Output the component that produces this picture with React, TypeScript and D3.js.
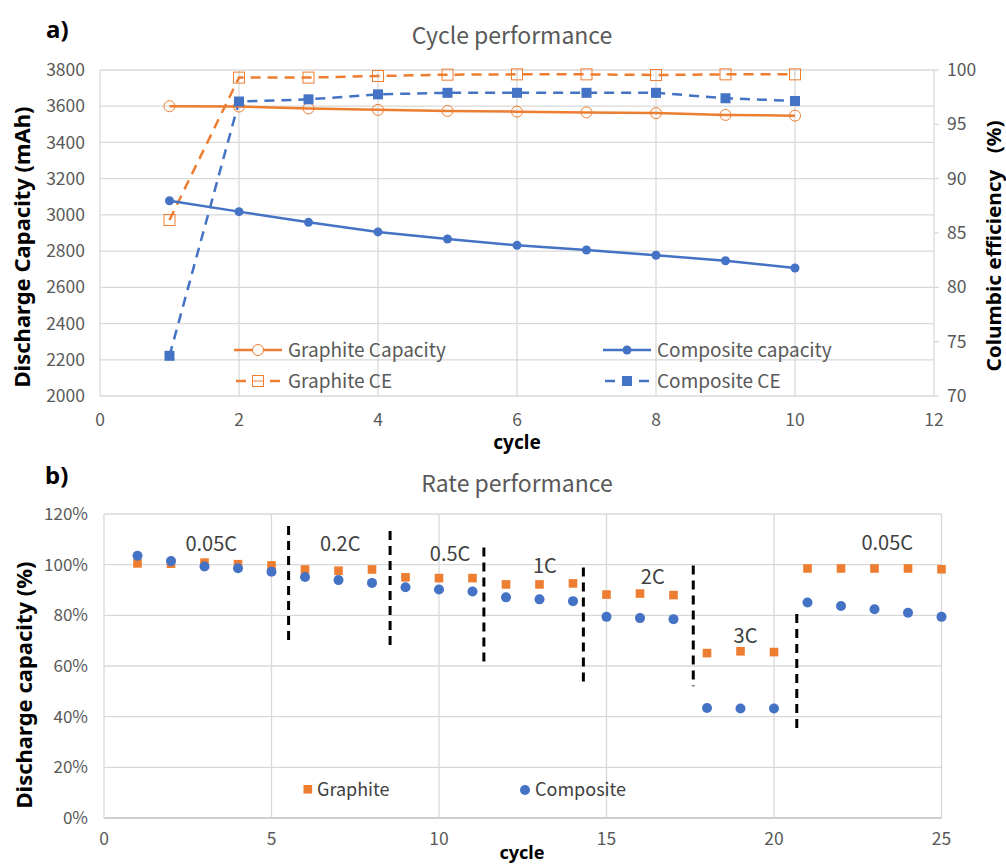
import React from 'react';
import * as d3 from 'd3';

// ---- a) cycle performance ----
const cycles = [1, 2, 3, 4, 5, 6, 7, 8, 9, 10];
const graphiteCapacity = [3600, 3598, 3588, 3580, 3574, 3570, 3566, 3562, 3552, 3548];
const compositeCapacity = [3078, 3018, 2959, 2906, 2867, 2832, 2806, 2777, 2747, 2707];
const graphiteCE = [86.2, 99.3, 99.3, 99.45, 99.57, 99.6, 99.6, 99.54, 99.6, 99.6];
const compositeCE = [73.7, 97.1, 97.3, 97.76, 97.9, 97.9, 97.9, 97.9, 97.4, 97.15];
const capTicks = [2000, 2200, 2400, 2600, 2800, 3000, 3200, 3400, 3600, 3800];
const ceTicks = [70, 75, 80, 85, 90, 95, 100];
const cycleTicksTop = [0, 2, 4, 6, 8, 10, 12];

// ---- b) rate performance ----
const rateCycles = d3.range(1, 26);
const graphiteRate = [100.5, 100.4, 100.8, 100.2, 99.7, 98.1, 97.6, 98.1, 95.0, 94.7, 94.7, 92.2, 92.2, 92.6, 88.2, 88.6, 88.0, 65.1, 65.8, 65.5, 98.5, 98.5, 98.5, 98.5, 98.2];
const compositeRate = [103.5, 101.4, 99.3, 98.6, 97.2, 95.1, 93.9, 92.8, 91.1, 90.2, 89.4, 87.1, 86.3, 85.6, 79.4, 78.9, 78.5, 43.4, 43.2, 43.2, 85.1, 83.7, 82.4, 81.0, 79.4];
const pctTicks = [0, 20, 40, 60, 80, 100, 120];
const cycleTicksBottom = [0, 5, 10, 15, 20, 25];
// separators between C-rates: cycle position, top %, bottom %
const sepCycle = [5.51, 8.54, 11.34, 14.31, 17.59, 20.68];
const sepTop = [115.3, 113.3, 106.8, 98.9, 99.7, 80.5];
const sepBottom = [68.2, 65.9, 59.6, 51.7, 52.0, 33.4];
const rateLabels = ['0.05C', '0.2C', '0.5C', '1C', '2C', '3C', '0.05C'];
const rateLabelCycle = [3.2, 7.05, 10.33, 13.16, 16.38, 19.15, 23.38];
const rateLabelPct = [108.1, 108.1, 104.1, 99.5, 95.0, 71.9, 108.6];

const ORANGE = '#ED7D31';
const BLUE = '#4472C4';
const GRID = '#d9d9d9';
const TXT = '#595959';
const FONT = '"Noto Sans CJK SC", "Noto Sans", sans-serif';
const BOLD = '"Noto Sans", "Liberation Sans", Arial, sans-serif';

export default function App() {
  // scales, top
  const xT = d3.scaleLinear().domain([0, 12]).range([100, 934]);
  const yL = d3.scaleLinear().domain([2000, 3800]).range([396, 70]);
  const yR = d3.scaleLinear().domain([70, 100]).range([396, 70]);
  // scales, bottom
  const xB = d3.scaleLinear().domain([0, 25]).range([104, 941.5]);
  const yB = d3.scaleLinear().domain([0, 120]).range([818, 514]);

  const lineCap = d3.line<number>().x((_, i) => xT(cycles[i])).y((d) => yL(d));
  const lineCE = d3.line<number>().x((_, i) => xT(cycles[i])).y((d) => yR(d));

  return (
    <svg width={1006} height={865} style={{ position: 'absolute', left: 0, top: 0, background: '#fff' }}>
      {/* ===== a) ===== */}
      <text x={46} y={38} fontFamily={BOLD} fontWeight="bold" fontSize={24} fill="#000">a)</text>
      <text x={512} y={44} textAnchor="middle" fontFamily={FONT} fontSize={23} fill={TXT}>Cycle performance</text>

      {/* grid */}
      {capTicks.map((t) => (
        <line key={'hg' + t} x1={xT(0)} x2={xT(12)} y1={yL(t)} y2={yL(t)} stroke={GRID} strokeWidth={1.3} />
      ))}
      {cycleTicksTop.map((t) => (
        <line key={'vg' + t} x1={xT(t)} x2={xT(t)} y1={yL(3800)} y2={yL(2000)} stroke={GRID} strokeWidth={1.3} />
      ))}
      {ceTicks.map((t) => (
        <line key={'rt' + t} x1={xT(12)} x2={xT(12) + 5} y1={yR(t)} y2={yR(t)} stroke={GRID} strokeWidth={1.3} />
      ))}

      {/* tick labels */}
      {capTicks.map((t) => (
        <text key={'lt' + t} x={85} y={yL(t)} dy="0.35em" textAnchor="end" fontFamily={FONT} fontSize={17.5} fill={TXT}>{t}</text>
      ))}
      {ceTicks.map((t) => (
        <text key={'rl' + t} x={947} y={yR(t)} dy="0.35em" textAnchor="start" fontFamily={FONT} fontSize={17.5} fill={TXT}>{t}</text>
      ))}
      {cycleTicksTop.map((t) => (
        <text key={'xt' + t} x={xT(t)} y={420} dy="0.35em" textAnchor="middle" fontFamily={FONT} fontSize={17.5} fill={TXT}>{t}</text>
      ))}
      <text x={517} y={449} textAnchor="middle" fontFamily={BOLD} fontWeight="bold" fontSize={19} fill="#000">cycle</text>
      <text transform="translate(30,247) rotate(-90)" textAnchor="middle" fontFamily={BOLD} fontWeight="bold" fontSize={22} fill="#000">Discharge Capacity (mAh)</text>
      <text transform="translate(1001,246) rotate(-90)" textAnchor="middle" fontFamily={BOLD} fontWeight="bold" fontSize={20} fill="#000" textLength={251} lengthAdjust="spacingAndGlyphs" style={{ whiteSpace: 'pre' }}>Columbic efficiency   (%)</text>

      {/* series */}
      <path d={lineCE(graphiteCE)!} fill="none" stroke={ORANGE} strokeWidth={2.5} strokeDasharray="10,7" />
      <path d={lineCE(compositeCE)!} fill="none" stroke={BLUE} strokeWidth={2.5} strokeDasharray="10,7" />
      <path d={lineCap(graphiteCapacity)!} fill="none" stroke={ORANGE} strokeWidth={2.5} />
      <path d={lineCap(compositeCapacity)!} fill="none" stroke={BLUE} strokeWidth={2.5} />
      {graphiteCapacity.map((d, i) => (
        <circle key={'gc' + i} cx={xT(cycles[i])} cy={yL(d)} r={5.5} fill="none" stroke={ORANGE} strokeWidth={1} />
      ))}
      {compositeCapacity.map((d, i) => (
        <circle key={'cc' + i} cx={xT(cycles[i])} cy={yL(d)} r={4.5} fill={BLUE} />
      ))}
      {graphiteCE.map((d, i) => (
        <rect key={'ge' + i} x={xT(cycles[i]) - 5.5} y={yR(d) - 5.5} width={11} height={11} fill="none" stroke={ORANGE} strokeWidth={1} />
      ))}
      {compositeCE.map((d, i) => (
        <rect key={'ce' + i} x={xT(cycles[i]) - 5} y={yR(d) - 5} width={10} height={10} fill={BLUE} />
      ))}

      {/* legend a */}
      <g fontFamily={FONT} fontSize={19} fill={TXT}>
        <line x1={234} x2={282} y1={350} y2={350} stroke={ORANGE} strokeWidth={2.5} />
        <circle cx={258} cy={350} r={5.5} fill="#fff" stroke={ORANGE} strokeWidth={1} />
        <text x={288} y={350} dy="0.35em">Graphite Capacity</text>
        <line x1={234} x2={282} y1={381} y2={381} stroke={ORANGE} strokeWidth={2.5} strokeDasharray="10,7" strokeDashoffset={-2} />
        <rect x={252.5} y={375.5} width={11} height={11} fill="#fff" stroke={ORANGE} strokeWidth={1} />
        <line x1={252.5} x2={263.5} y1={381} y2={381} stroke={ORANGE} strokeWidth={1} />
        <text x={288} y={381} dy="0.35em">Graphite CE</text>
        <line x1={603} x2={651} y1={350} y2={350} stroke={BLUE} strokeWidth={2.5} />
        <circle cx={627} cy={350} r={4.5} fill={BLUE} />
        <text x={657} y={350} dy="0.35em">Composite capacity</text>
        <line x1={603} x2={651} y1={381} y2={381} stroke={BLUE} strokeWidth={2.5} strokeDasharray="10,7" strokeDashoffset={-2} />
        <rect x={622} y={376} width={10} height={10} fill={BLUE} />
        <text x={657} y={381} dy="0.35em">Composite CE</text>
      </g>

      {/* ===== b) ===== */}
      <text x={45} y={484} fontFamily={BOLD} fontWeight="bold" fontSize={24} fill="#000">b)</text>
      <text x={517} y={492} textAnchor="middle" fontFamily={FONT} fontSize={23} fill={TXT}>Rate performance</text>

      {pctTicks.map((t) => (
        <line key={'bh' + t} x1={xB(0)} x2={xB(25)} y1={yB(t)} y2={yB(t)} stroke={t === 0 ? '#bfbfbf' : GRID} strokeWidth={1.3} />
      ))}
      {cycleTicksBottom.map((t) => (
        <line key={'bv' + t} x1={xB(t)} x2={xB(t)} y1={yB(120)} y2={yB(0)} stroke={GRID} strokeWidth={1.3} />
      ))}
      {pctTicks.map((t) => (
        <text key={'bl' + t} x={88} y={yB(t)} dy="0.35em" textAnchor="end" fontFamily={FONT} fontSize={17} fill={TXT}>{t + '%'}</text>
      ))}
      {cycleTicksBottom.map((t) => (
        <text key={'bx' + t} x={xB(t)} y={839} dy="0.35em" textAnchor="middle" fontFamily={FONT} fontSize={17.5} fill={TXT}>{t}</text>
      ))}
      <text x={522} y={859} textAnchor="middle" fontFamily={BOLD} fontWeight="bold" fontSize={18} fill="#000">cycle</text>
      <text transform="translate(32,685) rotate(-90)" textAnchor="middle" fontFamily={BOLD} fontWeight="bold" fontSize={22} fill="#000">Discharge capacity (%)</text>

      {/* separators */}
      {sepCycle.map((c, i) => (
        <line key={'sp' + i} x1={xB(c)} x2={xB(c)} y1={yB(sepTop[i])} y2={yB(sepBottom[i])} stroke="#000" strokeWidth={3} strokeDasharray="9,6" />
      ))}
      {rateLabels.map((l, i) => (
        <text key={'rl' + i} x={xB(rateLabelCycle[i])} y={yB(rateLabelPct[i])} dy="0.35em" textAnchor="middle" fontFamily={FONT} fontSize={20} fill="#404040">{l}</text>
      ))}

      {graphiteRate.map((d, i) => (
        <rect key={'gr' + i} x={xB(rateCycles[i]) - 4.3} y={yB(d) - 4.3} width={8.6} height={8.6} fill={ORANGE} />
      ))}
      {compositeRate.map((d, i) => (
        <circle key={'cr' + i} cx={xB(rateCycles[i])} cy={yB(d)} r={5} fill={BLUE} />
      ))}

      {/* legend b */}
      <g fontFamily={FONT} fontSize={18} fill="#404040">
        <rect x={303.5} y={785} width={8.6} height={8.6} fill={ORANGE} />
        <text x={317} y={790} dy="0.35em">Graphite</text>
        <circle cx={525} cy={790} r={5} fill={BLUE} />
        <text x={535} y={790} dy="0.35em">Composite</text>
      </g>
    </svg>
  );
}
